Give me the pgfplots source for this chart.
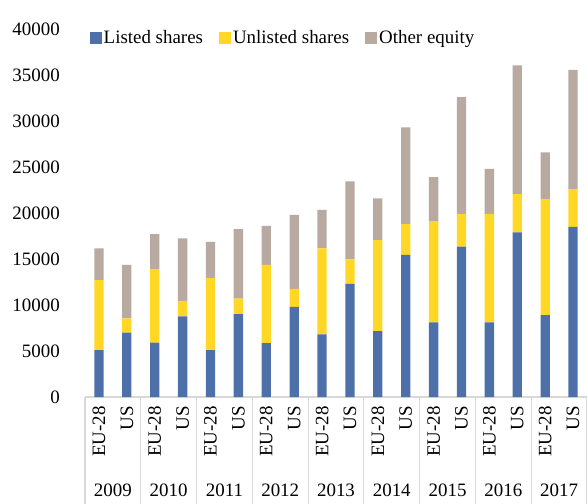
\documentclass[border=0pt]{standalone}
\usepackage{fontspec}
\setmainfont{Liberation Serif}
\usepackage{pgfplots}
\usepackage{pgfplotstable}
\pgfplotsset{compat=1.18}

\definecolor{listed}{HTML}{4E70A9}
\definecolor{unlisted}{HTML}{FFD724}
\definecolor{other}{HTML}{B8A9A1}
\definecolor{sepgray}{HTML}{D9D9D9}

% x: EU-28 at even positions, US at odd positions, 2009..2017
\pgfplotstableread{
x  listed unlisted other
0  5100   7600     3450
1  7000   1550     5800
2  5900   8000     3800
3  8750   1700     6800
4  5100   7850     3900
5  9000   1700     7550
6  5850   8500     4250
7  9800   1950     8050
8  6800   9350     4200
9  12300  2650     8500
10 7150   9900     4550
11 15450  3350     10500
12 8100   10950    4850
13 16350  3550     12700
14 8100   11800    4900
15 17900  4150     14000
16 8900   12600    5100
17 18500  4100     12950
}\equity

\begin{document}
\begin{tikzpicture}[font=\fontsize{19}{22}\selectfont]
\useasboundingbox (0,0) rectangle (587bp,504bp);
\begin{axis}[
  at={(85bp,107bp)}, anchor=south west,
  scale only axis, width=502bp, height=368bp,
  ybar stacked, bar width=9.3bp,
  xmin=-0.5, xmax=17.5, ymin=0, ymax=40000,
  ytick={0,5000,...,40000},
  xtick={0,...,17},
  xticklabels={EU-28,US,EU-28,US,EU-28,US,EU-28,US,EU-28,US,EU-28,US,EU-28,US,EU-28,US,EU-28,US},
  axis x line=bottom, axis y line=left,
  axis line style={-},
  y axis line style={draw=none},
  x axis line style={sepgray, line width=1.2bp},
  major tick length=0pt,
  /pgf/number format/assume math mode=true,
  /pgf/number format/1000 sep={},
  scaled y ticks=false,
  tick label style={font=\fontsize{19}{22}\selectfont},
  yticklabel style={inner sep=0pt, anchor=east, xshift=-25bp},
  xticklabel style={yshift=-9bp, rotate=90, anchor=east, inner sep=0pt},
  clip=false,
  legend columns=3,
  legend style={draw=none, fill=none, at={(rel axis cs:0.003,0.9755)}, anchor=west,
    font=\fontsize{19}{22}\selectfont,
    /tikz/every even column/.append style={column sep=14bp}},
  legend image code/.code={\fill[#1] (0bp,-6bp) rectangle (12bp,6bp);},
]
\addplot[fill=listed, draw=none] table[x=x, y=listed] {\equity};
\addplot[fill=unlisted, draw=none] table[x=x, y=unlisted] {\equity};
\addplot[fill=other, draw=none] table[x=x, y=other] {\equity};
\legend{Listed shares, Unlisted shares, Other equity}

\pgfplotsinvokeforeach{-0.5,1.5,3.5,5.5,7.5,9.5,11.5,13.5,15.5,17.5}{
  \draw[sepgray, line width=1.2bp] (axis cs:#1,0) -- ([yshift=-107bp]axis cs:#1,0);
}
\node at (axis cs:0.5,0)  [yshift=-93bp] {2009};
\node at (axis cs:2.5,0)  [yshift=-93bp] {2010};
\node at (axis cs:4.5,0)  [yshift=-93bp] {2011};
\node at (axis cs:6.5,0)  [yshift=-93bp] {2012};
\node at (axis cs:8.5,0)  [yshift=-93bp] {2013};
\node at (axis cs:10.5,0) [yshift=-93bp] {2014};
\node at (axis cs:12.5,0) [yshift=-93bp] {2015};
\node at (axis cs:14.5,0) [yshift=-93bp] {2016};
\node at (axis cs:16.5,0) [yshift=-93bp] {2017};
\end{axis}
\end{tikzpicture}
\end{document}
